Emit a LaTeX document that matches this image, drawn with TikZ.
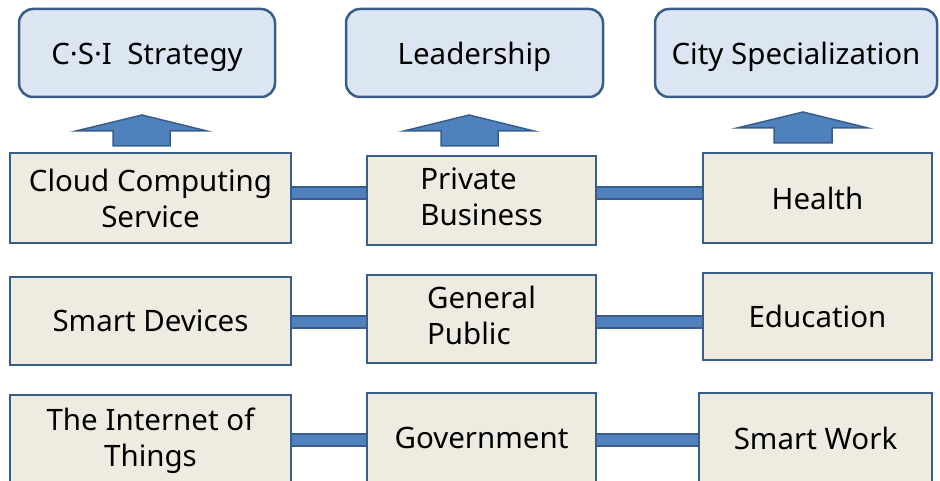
\documentclass[tikz,border=0pt]{standalone}
\usepackage{fontspec}
\setmainfont{Noto Sans}
\definecolor{bord}{HTML}{385D8A}
\definecolor{arrowfill}{HTML}{4F81BD}
\definecolor{boxfill}{HTML}{EEECE1}
\definecolor{topfill}{HTML}{DCE6F2}
\begin{document}
\begin{tikzpicture}[x=1pt,y=-1pt,
  every node/.style={font=\fontsize{29.5}{36}\selectfont},
  topbox/.style={draw=bord, fill=topfill, line width=2.5pt, rounded corners=14pt, inner sep=0pt, text height=30pt, text depth=7pt},
  itembox/.style={draw=bord, fill=boxfill, line width=2.5pt, inner sep=0pt},
  bar/.style={draw=bord, line width=2pt, double=arrowfill, double distance=10pt},
  uparrow/.style={draw=bord, fill=arrowfill, line width=1.5pt, line join=miter}]
\useasboundingbox (0,0) rectangle (940,481);
% top boxes
\node[topbox, minimum width=256pt, minimum height=88pt] (csi) at (147,53) {C·S·I\ \ Strategy};
\node[topbox, minimum width=257pt, minimum height=88pt] (lead) at (474.5,53) {Leadership};
\node[topbox, minimum width=282pt, minimum height=88pt] (city) at (796,53) {City Specialization};
% row 1
\node[itembox, minimum width=281pt, minimum height=90pt, align=center] (cloud) at (150.5,198) {Cloud Computing\\Service};
\node[itembox, minimum width=229pt, minimum height=89pt] (priv) at (481.5,200.5) {\begin{tabular}{@{}l@{}}Private\\Business\end{tabular}};
\node[itembox, minimum width=229pt, minimum height=90pt] (health) at (817.5,198) {Health};
% row 2
\node[itembox, minimum width=281pt, minimum height=88pt] (smart) at (150.5,321) {Smart Devices};
\node[itembox, minimum width=229pt, minimum height=88pt] (gen) at (481.5,319) {\begin{tabular}{@{}l@{}}General\\Public\end{tabular}};
\node[itembox, minimum width=229pt, minimum height=87pt, text height=24pt, text depth=2pt] (edu) at (817.5,316.5) {Education};
% row 3 (bottom edges lie just below the picture)
\node[itembox, minimum width=281pt, minimum height=92pt, align=center] (iot) at (150.5,441) {The Internet of\\Things};
\node[itembox, minimum width=229pt, minimum height=90pt] (gov) at (481.5,438) {Government};
\node[itembox, minimum width=233pt, minimum height=90pt] (work) at (815.5,438) {Smart Work};
% connectors
\draw[bar] ([yshift=5pt]cloud.east) -- ([yshift=5pt]cloud.east -| priv.west);
\draw[bar] ([yshift=7.5pt]priv.east) -- ([yshift=7.5pt]priv.east -| health.west);
\draw[bar] ([yshift=-0.5pt]smart.east) -- ([yshift=-0.5pt]smart.east -| gen.west);
\draw[bar] ([yshift=-2.5pt]gen.east) -- ([yshift=-2.5pt]gen.east -| edu.west);
\draw[bar] ([yshift=1.5pt]iot.east) -- ([yshift=1.5pt]iot.east -| gov.west);
\draw[bar] ([yshift=-1.5pt]gov.east) -- ([yshift=-1.5pt]gov.east -| work.west);
% arrows
\draw[uparrow] (142,115) -- (207,131) -- (170,131) -- (170,146) -- (113,146) -- (113,131) -- (76,131) -- cycle;
\draw[uparrow] (469,115) -- (534,131) -- (498,131) -- (498,146) -- (441,146) -- (441,131) -- (404,131) -- cycle;
\draw[uparrow] (803,112) -- (868,128) -- (832,128) -- (832,143) -- (774,143) -- (774,128) -- (737,128) -- cycle;
\end{tikzpicture}
\end{document}
